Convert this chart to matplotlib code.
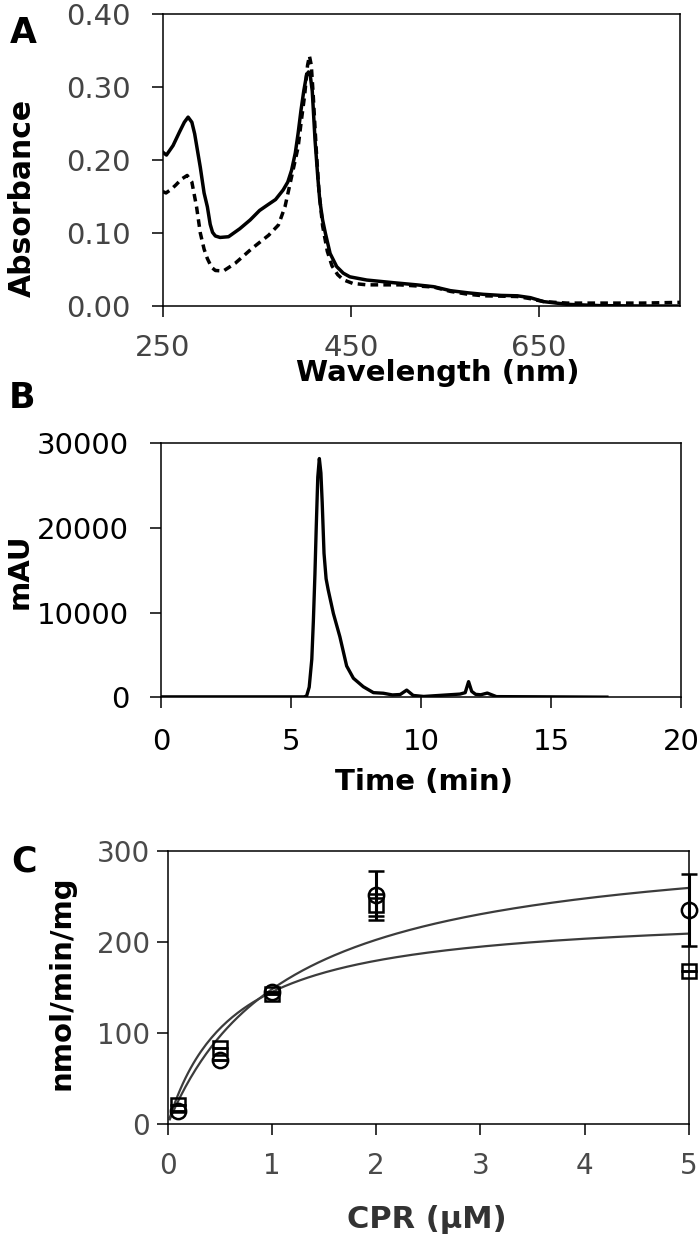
import matplotlib
matplotlib.use("Agg")
import matplotlib.pyplot as plt
import numpy as np

# panel A: absorbance spectra
wl_solid = [250, 254, 261, 268, 273, 277, 281, 284, 287, 290, 294, 297.5, 300.5, 303,
            306, 311, 320, 332, 343, 353, 362, 370, 378, 383, 387, 391, 394, 397, 400,
            403, 405, 407, 409, 412, 415, 417, 420, 423, 428, 435, 442, 449, 467, 495,
            520, 538, 556, 575, 591, 610, 627, 641, 655, 680, 715, 760, 800]
abs_solid = [0.211, 0.207, 0.220, 0.239, 0.252, 0.259, 0.252, 0.236, 0.213, 0.190, 0.155,
             0.136, 0.112, 0.101, 0.096, 0.094, 0.095, 0.106, 0.118, 0.131, 0.139, 0.146,
             0.159, 0.170, 0.186, 0.210, 0.237, 0.268, 0.295, 0.317, 0.321, 0.315, 0.295,
             0.227, 0.175, 0.145, 0.118, 0.0996, 0.072, 0.054, 0.045, 0.040, 0.0356, 0.032,
             0.029, 0.0265, 0.021, 0.018, 0.016, 0.0145, 0.014, 0.0114, 0.006, 0.0023,
             0.0005, 0.0, 0.0]

wl_dash = [250, 253.5, 259, 264, 270, 276, 281, 286, 290, 294, 297.5, 302, 306, 314.5,
           327, 345, 362.6, 373, 380, 387, 394, 397, 401, 404, 406, 408, 410, 413, 416,
           420, 425, 430, 436, 442, 452, 467, 502, 538, 556, 575, 591, 627, 641, 655,
           680, 720, 760, 800]
abs_dash = [0.157, 0.155, 0.160, 0.166, 0.174, 0.179, 0.170, 0.136, 0.100, 0.078, 0.065,
            0.053, 0.0487, 0.048, 0.0585, 0.079, 0.097, 0.111, 0.136, 0.177, 0.218, 0.25,
            0.29, 0.33, 0.343, 0.33, 0.29, 0.22, 0.16, 0.11, 0.075, 0.055, 0.043, 0.036,
            0.031, 0.029, 0.029, 0.026, 0.020, 0.016, 0.014, 0.013, 0.010, 0.006, 0.004,
            0.004, 0.004, 0.005]

# panel B: chromatogram
t_min = [0, 2, 4, 5.5, 5.6, 5.7, 5.8, 5.86, 5.92, 5.97, 6.03, 6.09, 6.15, 6.2, 6.27,
         6.35, 6.43, 6.63, 6.88, 7.14, 7.4, 7.78, 8.17, 8.55, 8.9, 9.2, 9.45, 9.7, 10.1,
         11.0, 11.5, 11.7, 11.83, 11.95, 12.1, 12.3, 12.55, 12.9, 14.4, 17.15]
mau = [50, 50, 50, 50, 150, 1200, 4500, 9000, 14500, 20000, 26000, 28200, 26500, 23000,
       17000, 14000, 12700, 9900, 7150, 3700, 2250, 1250, 550, 480, 280, 330, 850, 220,
       100, 280, 380, 550, 1850, 700, 350, 300, 500, 80, 60, 20]

# panel C: activity vs CPR
cpr = [0.1, 0.5, 1, 2, 5]
act_circle = [15, 71, 145, 251, 235]
err_circle = [0, 0, 0, 27, 40]
act_square = [21, 84, 143, 240, 168]
err_square = [0, 0, 0, 12, 0]
# Michaelis-Menten fits (Vmax, Km)
fit_upper = (319, 1.154)
fit_lower = (235, 0.62)

fig = plt.figure(figsize=(7, 12.43), dpi=100)
W, H = 700.0, 1243.0


def box(l, t, r, b):
    return [l / W, 1 - b / H, (r - l) / W, (b - t) / H]


def style(ax, color, pad_x, pad_y, size=21):
    for s in ax.spines.values():
        s.set_linewidth(1.1)
    ax.tick_params(direction="out", length=8, width=1.1, labelsize=size,
                   labelcolor=color)
    ax.tick_params(axis="x", pad=pad_x)
    ax.tick_params(axis="y", pad=pad_y)


# A
ax1 = fig.add_axes(box(162.7, 14.3, 680, 306))
ax1.plot(wl_solid, abs_solid, color="black", lw=2.5, solid_joinstyle="round")
ax1.plot(wl_dash, abs_dash, color="black", lw=2.5, dashes=(2.2, 1.5))
ax1.set_xlim(250, 800)
ax1.set_ylim(0, 0.40)
ax1.set_xticks([250, 450, 650])
ax1.set_yticks([0, 0.1, 0.2, 0.3, 0.4])
ax1.set_yticklabels(["0.00", "0.10", "0.20", "0.30", "0.40"])
style(ax1, "#444444", 12, 15)

# B
ax2 = fig.add_axes(box(161, 443.3, 681, 697.3))
ax2.plot(t_min, mau, color="black", lw=2.4, solid_joinstyle="round")
ax2.set_xlim(0, 20)
ax2.set_ylim(0, 30000)
ax2.set_xticks([0, 5, 10, 15, 20])
ax2.set_yticks([0, 10000, 20000, 30000])
style(ax2, "black", 14, 15)

# C
ax3 = fig.add_axes(box(167.7, 850.7, 688.7, 1124.3))
xs = np.linspace(0.02, 5, 200)
for vmax, km in (fit_upper, fit_lower):
    ax3.plot(xs, vmax * xs / (km + xs), color="#3c3c3c", lw=1.6)
ax3.errorbar(cpr, act_circle, yerr=err_circle, fmt="o", ms=11, mfc="none",
             mec="black", mew=1.8, ecolor="black", elinewidth=2.2, capsize=6,
             capthick=2.2, clip_on=False, zorder=3)
ax3.errorbar(cpr, act_square, yerr=err_square, fmt="s", ms=10, mfc="none",
             mec="black", mew=1.8, ecolor="black", elinewidth=2.2, capsize=6,
             capthick=2.2, clip_on=False, zorder=3)
ax3.set_xlim(0, 5)
ax3.set_ylim(0, 300)
ax3.set_xticks([0, 1, 2, 3, 4, 5])
ax3.set_yticks([0, 100, 200, 300])
style(ax3, "#4a4a4a", 12, 5, size=20)

# labels
bold = dict(fontweight="bold", ha="center", va="center", color="black")
fig.text(23 / W, 1 - 33 / H, "A", fontsize=25, **bold)
fig.text(22 / W, 1 - 398 / H, "B", fontsize=25, **bold)
fig.text(24 / W, 1 - 861 / H, "C", fontsize=25, **bold)
fig.text(22 / W, 1 - 198 / H, "Absorbance", fontsize=21.5, rotation=90, **bold)
fig.text(20 / W, 1 - 571 / H, "mAU", fontsize=21, rotation=90, **bold)
fig.text(62 / W, 1 - 983 / H, "nmol/min/mg", fontsize=21, rotation=90, **bold)
fig.text(438 / W, 1 - 373 / H, "Wavelength (nm)", fontsize=21, **bold)
fig.text(424 / W, 1 - 782 / H, "Time (min)", fontsize=21, **bold)
fig.text(427 / W, 1 - 1220 / H, "CPR (µM)", fontsize=22, fontweight="bold",
         ha="center", va="center", color="#333333")

fig.savefig("out.png", dpi=100)
